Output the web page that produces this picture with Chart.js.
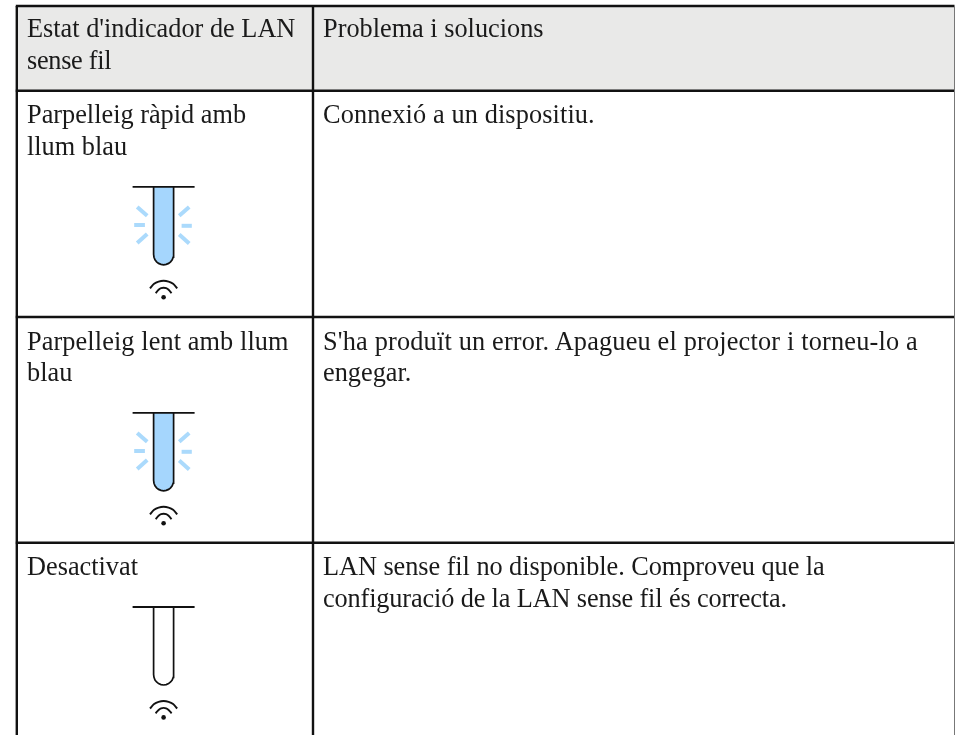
<!DOCTYPE html>
<html>
<head>
<meta charset="utf-8">
<style>
  html, body { margin: 0; padding: 0; background: #fff; }
  #wrap { width: 955px; height: 735px; }
</style>
<script src="https://cdn.jsdelivr.net/npm/chart.js@4/dist/chart.umd.min.js"></script>
</head>
<body>
<div id="wrap"><canvas id="chart"></canvas></div>
<script>
// table rules (page pixels)
const columnRules = [16.8, 313];
const rowRules = [6, 90.7, 317, 542.7];
const headerCells = ["Estat d'indicador de LAN\nsense fil", 'Problema i solucions'];
const stateCells = [
  'Parpelleig ràpid amb\nllum blau',
  'Parpelleig lent amb llum\nblau',
  'Desactivat'
];
const solutionCells = [
  'Connexió a un dispositiu.',
  "S'ha produït un error. Apagueu el projector i torneu-lo a\nengegar.",
  'LAN sense fil no disponible. Comproveu que la\nconfiguració de la LAN sense fil és correcta.'
];
const tableRight = 954.5;
const tableBottom = 735;

// indicator lamp, offsets from the top centre of the tube
const lampTops = [186.8, 412.8, 607];
const lampLit = [true, true, false];
const lampCentre = 163.6;
const capX = [-31, 31];
const tubeX = [-10, -10, -9.6, -8.6, -7, -5, -2.6, 0, 2.6, 5, 7, 8.6, 9.6, 10, 10];
const tubeY = [0, 67.5, 70.4, 73, 75, 76.6, 77.6, 78, 77.6, 76.6, 75, 73, 70.4, 67.5, 0];
const rays = [
  [[-26.4, 20.3], [-16.4, 29]], [[-29.4, 38.2], [-18.7, 38.2]], [[-26.4, 56.3], [-16.4, 47.3]],
  [[25.6, 20.3], [15.6, 29]], [[28.2, 39], [18, 39]], [[25.6, 56.8], [15.6, 47.8]]
];
// wifi symbol, offsets from the lamp top
const wifiArcs = [
  [[-13.6, 101.5], [-9.5, 97], [-5, 94.8], [0, 94], [5, 94.8], [9.5, 97], [13.6, 101.5]],
  [[-8, 106.3], [-5, 103], [-2.5, 101.4], [0, 100.9], [2.5, 101.4], [5, 103], [8, 106.3]]
];
const wifiDotY = 110.4;

const black = '#111111';
const lampBlue = '#a5d6fd';
const rayBlue = '#abdafc';
const headerFill = '#e9e9e8';

// the source face is a bit narrower or wider than Liberation Serif on some lines
const lineTracking = {
  'Connexió a un dispositiu.': '0.12px',
  "S'ha produït un error. Apagueu el projector i torneu-lo a": '0.18px',
  'LAN sense fil no disponible. Comproveu que la': '-0.05px',
  'configuració de la LAN sense fil és correcta.': '-0.14px',
  'sense fil': '-0.3px',
  'Parpelleig lent amb llum': '0.1px'
};

const toXY = (xs, ys) => xs.map((x, i) => ({ x, y: ys[i] }));
const line = (data, extra) => Object.assign({
  type: 'line', data, borderColor: black, borderWidth: 2, pointRadius: 0, tension: 0
}, extra);

const datasets = [];
// header band
datasets.push(line(toXY([columnRules[0], tableRight], [rowRules[1], rowRules[1]]), {
  borderWidth: 0, fill: { value: rowRules[0] }, backgroundColor: headerFill
}));
lampTops.forEach((top, n) => {
  const tube = toXY(tubeX.map(v => lampCentre + v), tubeY.map(v => top + v));
  datasets.push(line(tube, {
    borderWidth: 1.7,
    fill: lampLit[n] ? { value: top } : false,
    backgroundColor: lampBlue
  }));
  datasets.push(line(toXY(capX.map(v => lampCentre + v), [top, top]), { borderWidth: 1.8 }));
  if (lampLit[n]) {
    rays.forEach(r => datasets.push(line(r.map(p => ({ x: lampCentre + p[0], y: top + p[1] })), {
      borderColor: rayBlue, borderWidth: 4
    })));
  }
  wifiArcs.forEach(a => datasets.push(line(a.map(p => ({ x: lampCentre + p[0], y: top + p[1] })), {
    borderWidth: 1.9, tension: 0.3
  })));
  datasets.push(line([{ x: lampCentre, y: top + wifiDotY }], {
    pointRadius: 2.3, pointBackgroundColor: black, pointBorderWidth: 0, showLine: false
  }));
});
// rules on top of the fills
rowRules.forEach(y => datasets.push(line(toXY([columnRules[0] - 1, tableRight], [y, y]), { borderWidth: 2.6 })));
columnRules.forEach(x => datasets.push(line(toXY([x, x], [rowRules[0], tableBottom]), { borderWidth: 2.4 })));
datasets.push(line(toXY([tableRight, tableRight], [rowRules[0], tableBottom]), { borderWidth: 1, borderColor: '#777777' }));
// chart.js paints the first dataset last, so flip to keep the band underneath
datasets.reverse();

// cell text is written through the same scales as the rules
const cellText = {
  id: 'cellText',
  afterDatasetsDraw(chart) {
    const { ctx, scales: { x, y } } = chart;
    const put = (str, left, top) => str.split('\n').forEach((s, i) => {
      ctx.letterSpacing = lineTracking[s] || '0px';
      ctx.fillText(s, x.getPixelForValue(left), y.getPixelForValue(top + i * 31.5));
    });
    ctx.save();
    ctx.font = '26.3px "Liberation Serif"';
    ctx.fillStyle = '#1a1a1a';
    ctx.textBaseline = 'alphabetic';
    ctx.fontKerning = 'normal';
    put(headerCells[0], 27, 37);
    put(headerCells[1], 323, 37);
    stateCells.forEach((s, i) => put(s, 27, rowRules[i + 1] + 32.5));
    solutionCells.forEach((s, i) => put(s, 323, rowRules[i + 1] + 32.5));
    ctx.restore();
  }
};

new Chart(document.getElementById('chart'), {
  type: 'line',
  data: { datasets },
  plugins: [cellText],
  options: {
    responsive: true,
    maintainAspectRatio: false,
    animation: false,
    layout: { padding: 0, autoPadding: false },
    plugins: { legend: { display: false }, title: { display: false }, tooltip: { enabled: false } },
    scales: {
      x: { type: 'linear', min: 0, max: 955, display: false },
      y: { type: 'linear', min: 0, max: 735, reverse: true, display: false }
    }
  }
});
</script>
</body>
</html>
